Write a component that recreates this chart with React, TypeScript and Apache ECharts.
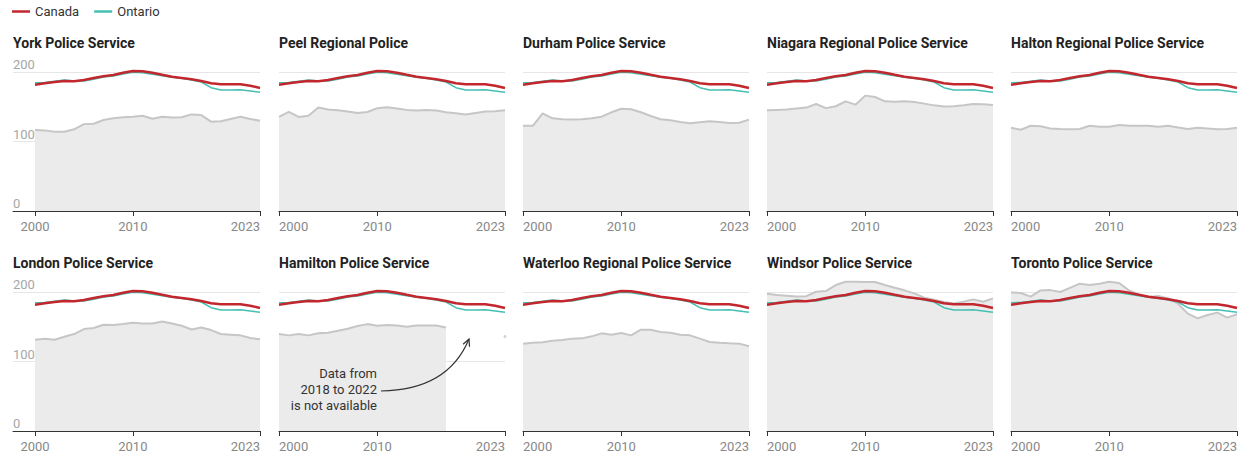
import React, { useEffect, useRef } from "react";
import * as echarts from "echarts";

const years = [2000, 2001, 2002, 2003, 2004, 2005, 2006, 2007, 2008, 2009, 2010, 2011, 2012, 2013, 2014, 2015, 2016, 2017, 2018, 2019, 2020, 2021, 2022, 2023];
const xTicks = [2000, 2010, 2023];
const yTicks = [0, 100, 200];

const canada = [181.8, 183.7, 185.6, 187, 186.6, 188.5, 191.4, 194, 195.7, 199, 201.4, 201, 199, 196, 193.3, 191.4, 189.5, 187, 183.7, 182.3, 182.3, 182.3, 180.3, 177];
const ontario = [184.6, 184.9, 186.6, 188.5, 187, 187, 189.5, 192.8, 194.2, 197, 199.5, 199, 196.6, 194.7, 192.3, 190.9, 188.5, 185.6, 177.4, 174, 174, 174.5, 172.7, 170.8];

const york = [116.5, 116, 114, 114, 117.5, 125, 125.5, 131, 133.3, 134.8, 135.7, 137, 132.8, 135.7, 134.5, 135, 139, 138, 128.5, 129, 132.4, 135.7, 132.4, 130];
const peel = [135.4, 142.6, 135.4, 137, 149, 146, 145, 143, 141, 142.5, 148, 149.3, 147.5, 145.5, 144.5, 145.5, 144.5, 142, 140.7, 138.8, 141, 143, 143.5, 145];
const durham = [122.8, 122.5, 140.5, 133.3, 132, 131.5, 132, 133.3, 135.7, 142, 147.2, 146.3, 142, 136.7, 132, 130.5, 128, 126.2, 127.6, 129, 128, 126.6, 127, 131.5];
const niagara = [145, 145.5, 146, 147.4, 148.8, 154, 148, 150.7, 157.8, 153, 166, 164, 157.8, 157.3, 157.8, 156.8, 154.5, 152, 150.2, 150.7, 152, 154, 153.5, 152.6];
const halton = [119.7, 116.9, 122.6, 122, 118.8, 118, 117.5, 118, 122.6, 121.2, 121.2, 123.6, 122.6, 122.6, 122.6, 121.2, 122.6, 120.2, 118, 119.7, 118.8, 117.5, 118, 119.7];
const london = [131.4, 132.9, 131.4, 135.7, 139.5, 146.7, 148.1, 152.9, 152.4, 153.8, 155.7, 154.8, 154.8, 157.6, 154.8, 151.4, 146.1, 149, 145.2, 139.5, 138.6, 137.6, 133.8, 131.9];
const hamilton = [139.5, 137.6, 139.5, 137.6, 140.5, 141.4, 144.3, 147.1, 151, 153.8, 151.4, 152.4, 151.9, 150, 151.9, 151.9, 151.9, 149, null, null, null, null, null, 136];
const waterloo = [125.7, 127.1, 127.6, 130, 130.9, 132.9, 133.3, 136.2, 140.5, 138.6, 141, 137.6, 145.7, 145.7, 142.4, 141.4, 138.6, 137.6, 132.9, 128.1, 127.1, 126.2, 125.7, 121.9];
const windsor = [197.6, 195.7, 194.7, 193.7, 194, 200.4, 201.4, 210, 214.8, 214.8, 214.3, 214.3, 210, 206.2, 202.4, 198, 191.8, 189, 185.6, 183.6, 186, 189.4, 186, 190.8];
const toronto = [199.4, 198.6, 193.3, 202.3, 202.7, 200, 206, 212, 210, 212, 214.8, 212.9, 202.3, 196.6, 192.8, 194.3, 190.8, 183.2, 168.9, 162.1, 167, 170.3, 163.1, 167.9];

const serviceNames = [
  "York Police Service",
  "Peel Regional Police",
  "Durham Police Service",
  "Niagara Regional Police Service",
  "Halton Regional Police Service",
  "London Police Service",
  "Hamilton Police Service",
  "Waterloo Regional Police Service",
  "Windsor Police Service",
  "Toronto Police Service",
];
const serviceValues = [york, peel, durham, niagara, halton, london, hamilton, waterloo, windsor, toronto];

const RED = "#c1272d";
const TEAL = "#45bfb3";
const GREY_LINE = "#c6c6c6";
const GREY_AREA = "#ebebeb";
const FONT = "Roboto";

function buildOption() {
  const grid: any[] = [];
  const xAxis: any[] = [];
  const yAxis: any[] = [];
  const series: any[] = [];
  const title: any[] = [];

  serviceNames.forEach((name, i) => {
    const row = Math.floor(i / 5);
    const col = i % 5;
    const left = col === 0 ? 13 : 279 + (col - 1) * 244;
    const width = col === 0 ? 247 : 226;
    const top = row === 0 ? 72 : 292;
    grid.push({ left, top, width, height: 139, containLabel: false });
    title.push({
      text: name,
      left,
      top: row === 0 ? 36 : 256,
      padding: 0,
      textStyle: { fontFamily: FONT, fontSize: 14, fontWeight: "bold", color: "#222" },
    });
    xAxis.push({
      type: "value",
      gridIndex: i,
      min: col === 0 ? 1997.75 : 2000,
      max: 2023,
      axisLine: { show: true, lineStyle: { color: "#333", width: 1 } },
      axisTick: { show: true, customValues: xTicks, length: 5, lineStyle: { color: "#333" } },
      axisLabel: {
        customValues: xTicks,
        color: "#888",
        fontFamily: FONT,
        fontSize: 13,
        margin: 9,
        alignMinLabel: col === 0 ? "center" : "left",
        alignMaxLabel: "right",
        formatter: (v: number) => String(v),
      },
      splitLine: { show: false },
    });
    yAxis.push({
      type: "value",
      gridIndex: i,
      min: 0,
      max: 200,
      interval: 100,
      axisLine: { show: false },
      axisTick: { show: false },
      axisLabel: {
        show: col === 0,
        inside: true,
        align: "left",
        verticalAlign: "bottom",
        margin: 0,
        padding: [0, 0, 1, 0],
        color: "#a6a6a6",
        fontFamily: FONT,
        fontSize: 13,
        customValues: yTicks,
      },
      splitLine: { show: true, lineStyle: { color: "#e6e6e6", width: 1 } },
    });
    const vals = serviceValues[i];
    series.push({
      type: "line",
      name,
      xAxisIndex: i,
      yAxisIndex: i,
      data: years.map((y, k) => [y, vals[k]]),
      symbol: "none",
      connectNulls: false,
      clip: false,
      silent: true,
      z: 1,
      itemStyle: { color: GREY_LINE },
      lineStyle: { color: GREY_LINE, width: 2 },
      areaStyle: { color: GREY_AREA, opacity: 1 },
    });
    if (name === "Hamilton Police Service") {
      series.push({
        type: "scatter",
        name: name + " 2023",
        xAxisIndex: i,
        yAxisIndex: i,
        data: years.map((y, k) => [y, vals[k]]).filter((d, k) => k === years.length - 1),
        symbolSize: 3,
        silent: true,
        z: 1,
        itemStyle: { color: GREY_LINE },
      });
    }
    series.push({
      type: "line",
      name: "Ontario",
      xAxisIndex: i,
      yAxisIndex: i,
      data: years.map((y, k) => [y, ontario[k]]),
      symbol: "none",
      clip: false,
      silent: true,
      z: 3,
      itemStyle: { color: TEAL },
      lineStyle: { color: TEAL, width: 1.5 },
    });
    series.push({
      type: "line",
      name: "Canada",
      xAxisIndex: i,
      yAxisIndex: i,
      data: years.map((y, k) => [y, canada[k]]),
      symbol: "none",
      clip: false,
      silent: true,
      z: 4,
      itemStyle: { color: RED },
      lineStyle: { color: RED, width: 2.5 },
    });
  });

  return {
    animation: false,
    backgroundColor: "#fff",
    textStyle: { fontFamily: FONT },
    title,
    legend: {
      data: [
        { name: "Canada", icon: "rect", itemStyle: { color: RED } },
        { name: "Ontario", icon: "rect", itemStyle: { color: TEAL } },
      ],
      left: 12,
      top: 5,
      padding: 0,
      itemWidth: 18,
      itemHeight: 2.5,
      itemGap: 15,
      selectedMode: false,
      textStyle: { fontFamily: FONT, fontSize: 13, color: "#333" },
    },
    grid,
    xAxis,
    yAxis,
    series,
    graphic: [
      {
        type: "text",
        x: 377,
        y: 365,
        silent: true,
        style: {
          text: "Data from\n2018 to 2022\nis not available",
          align: "right",
          textAlign: "right",
          verticalAlign: "top",
          fontFamily: FONT,
          fontSize: 13,
          lineHeight: 16,
          fill: "#333",
        },
        z: 10,
      },
      {
        type: "bezierCurve",
        silent: true,
        shape: { x1: 381, y1: 391, cpx1: 448, cpy1: 390, x2: 469, y2: 339 },
        style: { stroke: "#333", lineWidth: 1.2, fill: "none" },
        z: 10,
      },
      {
        type: "polyline",
        silent: true,
        shape: { points: [[463.1, 344.2], [469, 339], [469.5, 346.8]] },
        style: { stroke: "#333", lineWidth: 1.2, fill: "none" },
        z: 10,
      },
    ],
  };
}

export default function App() {
  const ref = useRef<HTMLDivElement>(null);
  useEffect(() => {
    if (!ref.current) return;
    const chart = echarts.init(ref.current, undefined, { renderer: "svg" });
    chart.setOption(buildOption() as any);
    return () => chart.dispose();
  }, []);
  return (
    <div
      ref={ref}
      style={{ position: "absolute", left: 0, top: 0, width: 1244, height: 462, background: "#fff" }}
    />
  );
}
